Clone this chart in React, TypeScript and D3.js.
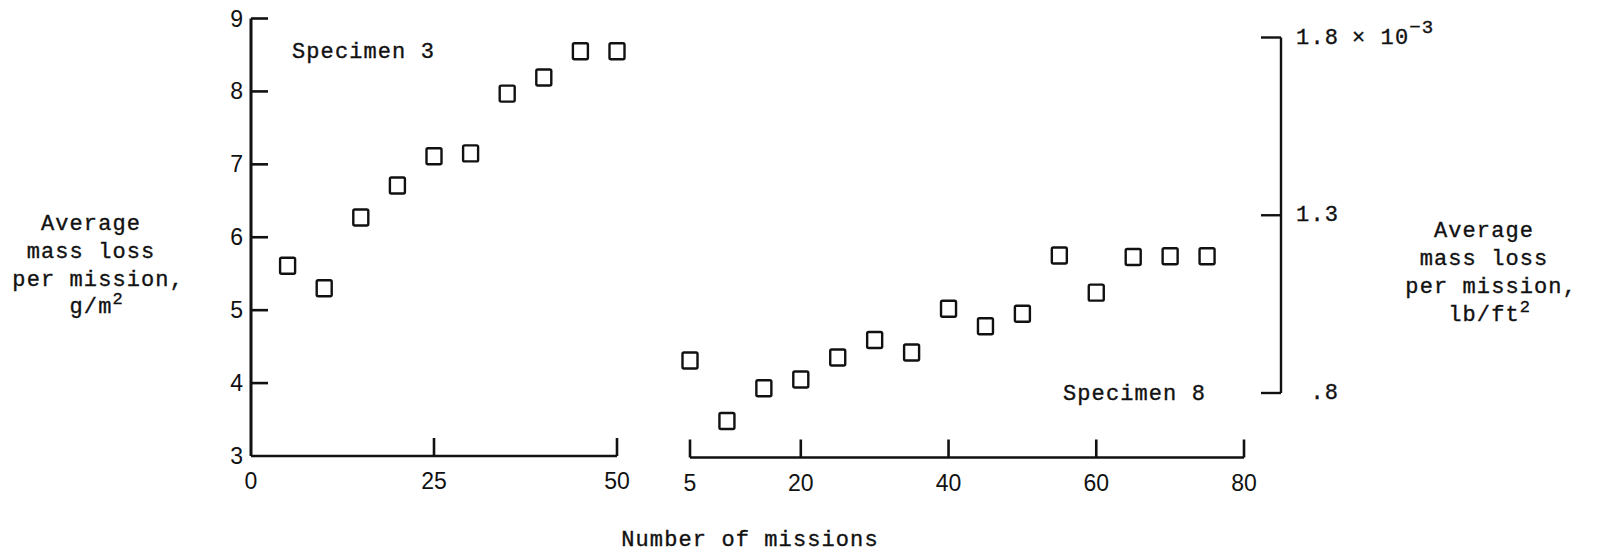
import React from "react";
import * as d3 from "d3";

// ---- data ----
const missions3 = [5, 10, 15, 20, 25, 30, 35, 40, 45, 50];
const loss3 = [5.61, 5.3, 6.27, 6.71, 7.11, 7.15, 7.97, 8.19, 8.55, 8.55];
const missions8 = [5, 10, 15, 20, 25, 30, 35, 40, 45, 50, 55, 60, 65, 70, 75];
const loss8 = [4.31, 3.48, 3.93, 4.05, 4.35, 4.59, 4.42, 5.02, 4.78, 4.95, 5.75, 5.24, 5.73, 5.74, 5.74];

const leftTicks = [3, 4, 5, 6, 7, 8, 9];
const bottomTicksA = [0, 25, 50];
const bottomTicksB = [5, 20, 40, 60, 80];
const rightTicks = [0.8, 1.3, 1.8];
const rightTickLabels = [".8", "1.3", "1.8"];

const W = 1608;
const H = 554;

const MONO = "'Liberation Mono','DejaVu Sans Mono',monospace";
const NUM = "'Liberation Sans','DejaVu Sans',sans-serif";

export default function App() {
  const y = d3.scaleLinear().domain([3, 9]).range([456, 18.5]);
  const xA = d3.scaleLinear().domain([0, 50]).range([251, 617]);
  const xB = d3.scaleLinear().domain([5, 80]).range([690, 1244]);
  const yR = d3.scaleLinear().domain([0.8, 1.8]).range([393, 37.5]);

  const axisX = xA(0);
  const baseY = y(3);
  const rightX = 1281;
  const tickLen = 18;
  const sqW = 15;
  const sqH = 16;

  const square = (cx: number, cy: number, k: string) => (
    <rect
      key={k}
      x={cx - sqW / 2}
      y={cy - sqH / 2}
      width={sqW}
      height={sqH}
      rx={1.5}
      fill="none"
      stroke="#111"
      strokeWidth={2.4}
    />
  );

  const monoStyle = {
    fontFamily: MONO,
    fontSize: 22,
    letterSpacing: 1.1,
    stroke: "#111",
    strokeWidth: 0.35,
  } as const;
  const numStyle = { fontFamily: NUM, fontSize: 23 } as const;
  const adv = 22 * 0.6 + 1.1;

  const labelLines = (cx: number, baselines: number[], lines: { t: string; core: number; sup?: string }[]) =>
    lines.map((l, i) => {
      const x0 = cx - (l.core * adv) / 2;
      return (
        <text key={i} x={x0} y={baselines[i]} style={monoStyle} fill="#111">
          {l.t}
          {l.sup ? (
            <tspan dy={-9} fontSize={17}>
              {l.sup}
            </tspan>
          ) : null}
        </text>
      );
    });

  return (
    <svg
      width={W}
      height={H}
      style={{ position: "absolute", left: 0, top: 0, background: "#fff" }}
    >
      <rect x={0} y={0} width={W} height={H} fill="#fff" />

      {/* left y axis */}
      <line x1={axisX} x2={axisX} y1={y(9)} y2={baseY} stroke="#111" strokeWidth={3} />
      {leftTicks.map((t) => (
        <g key={"lt" + t}>
          {t > 3 && (
            <line x1={axisX} x2={axisX + 17} y1={y(t)} y2={y(t)} stroke="#111" strokeWidth={2.6} />
          )}
          <text x={243} y={y(t) + 8} textAnchor="end" style={numStyle} fill="#111">
            {t}
          </text>
        </g>
      ))}

      {/* bottom axis, segment A */}
      <line x1={xA(0)} x2={xA(50)} y1={baseY} y2={baseY} stroke="#111" strokeWidth={2.6} />
      {bottomTicksA.map((t) => (
        <g key={"ba" + t}>
          {t > 0 && (
            <line x1={xA(t)} x2={xA(t)} y1={baseY} y2={baseY - tickLen} stroke="#111" strokeWidth={2.6} />
          )}
          <text x={xA(t)} y={489} textAnchor="middle" style={numStyle} fill="#111">
            {t}
          </text>
        </g>
      ))}

      {/* bottom axis, segment B */}
      <line x1={xB(5)} x2={xB(80)} y1={baseY + 1.5} y2={baseY + 1.5} stroke="#111" strokeWidth={2.6} />
      {bottomTicksB.map((t) => (
        <g key={"bb" + t}>
          <line
            x1={xB(t)}
            x2={xB(t)}
            y1={baseY + 1.5}
            y2={baseY + 1.5 - tickLen}
            stroke="#111"
            strokeWidth={2.6}
          />
          <text x={xB(t)} y={491} textAnchor="middle" style={numStyle} fill="#111">
            {t}
          </text>
        </g>
      ))}

      {/* right axis */}
      <line x1={rightX} x2={rightX} y1={yR(1.8)} y2={yR(0.8)} stroke="#111" strokeWidth={2.4} />
      {rightTicks.map((t, i) => (
        <g key={"rt" + t}>
          <line x1={rightX - 20} x2={rightX} y1={yR(t)} y2={yR(t)} stroke="#111" strokeWidth={2.4} />
          <text x={1339} y={yR(t) + 6} textAnchor="end" style={monoStyle} fill="#111">
            {rightTickLabels[i]}
          </text>
          {i === 2 && (
            <text x={1352} y={yR(t) + 6} style={monoStyle} fill="#111">
              {"× 10"}
              <tspan dy={-11} fontSize={19}>
                −3
              </tspan>
            </text>
          )}
        </g>
      ))}

      {/* data */}
      {missions3.map((m, i) => square(xA(m), y(loss3[i]), "s3" + i))}
      {missions8.map((m, i) => square(xB(m), y(loss8[i]), "s8" + i))}

      {/* annotations */}
      <text x={292} y={58} style={monoStyle} fill="#111">
        Specimen 3
      </text>
      <text x={1063} y={400} style={monoStyle} fill="#111">
        Specimen 8
      </text>

      {/* axis titles */}
      {labelLines(91, [230, 258, 286, 313], [
        { t: "Average", core: 7 },
        { t: "mass loss", core: 9 },
        { t: "per mission,", core: 11 },
        { t: "g/m", core: 3, sup: "2" },
      ])}
      {labelLines(1484, [237, 265, 293, 321], [
        { t: "Average", core: 7 },
        { t: "mass loss", core: 9 },
        { t: "per mission,", core: 11 },
        { t: "lb/ft", core: 5, sup: "2" },
      ])}
      <text x={750} y={546} textAnchor="middle" style={monoStyle} fill="#111">
        Number of missions
      </text>
    </svg>
  );
}
